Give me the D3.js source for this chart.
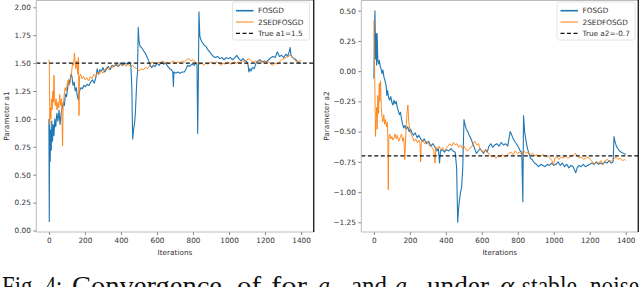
<!DOCTYPE html>
<html>
<body style="margin: 0; background: #fff">
  <script src="https://d3js.org/d3.v7.min.js"></script>

  <script>
    // a1 panel, [iteration, value]
    const a1Fosgd = [
      [0,1.00],[2,0.08],[4,0.95],[7,0.62],[10,0.90],[13,0.72],[16,0.98],[20,0.80],[24,0.95],[28,0.85],
      [33,1.00],[38,0.93],[44,1.05],[50,0.98],[56,1.08],[62,0.95],[68,1.05],[74,1.10],[80,1.15],[86,1.12],
      [92,1.22],[98,1.20],[104,1.28],[110,1.35],[116,1.32],[122,1.40],[128,1.38],[134,1.30],[140,1.33],[146,1.25],
      [152,1.28],[158,1.20],[164,1.17],[170,1.25],[178,1.28],[186,1.27],[194,1.30],[202,1.29],[212,1.31],[222,1.30],
      [232,1.33],[242,1.35],[252,1.32],[262,1.38],[268,1.45],[274,1.40],[282,1.44],[292,1.43],[300,1.46],[310,1.42],
      [320,1.45],[330,1.47],[340,1.44],[350,1.48],[362,1.47],[374,1.49],[386,1.47],[398,1.50],[410,1.48],[422,1.50],
      [434,1.49],[446,1.51],[455,1.48],[460,1.30],[465,0.82],[470,0.90],[476,0.97],[480,1.05],[484,1.20],[488,1.35],
      [492,1.42],[496,1.82],[500,1.70],[506,1.65],[514,1.64],[522,1.62],[530,1.60],[538,1.58],[546,1.55],[554,1.52],
      [562,1.48],[570,1.46],[580,1.48],[590,1.47],[600,1.50],[612,1.48],[624,1.51],[636,1.49],[648,1.50],[660,1.47],
      [670,1.45],[680,1.44],[688,1.42],[691,1.29],[694,1.42],[704,1.41],[716,1.42],[728,1.41],[740,1.42],[752,1.42],
      [762,1.45],[770,1.48],[782,1.47],[794,1.49],[806,1.48],[816,1.50],[822,1.49],[826,0.87],[830,1.40],[833,1.96],
      [838,1.74],[846,1.70],[854,1.68],[862,1.66],[872,1.65],[882,1.62],[892,1.60],[902,1.58],[912,1.56],[924,1.55],
      [936,1.56],[948,1.54],[960,1.55],[972,1.53],[984,1.55],[996,1.54],[1008,1.55],[1020,1.53],[1032,1.55],[1043,1.57],
      [1054,1.54],[1066,1.52],[1078,1.54],[1090,1.52],[1100,1.51],[1106,1.48],[1110,1.42],[1116,1.45],[1122,1.43],[1130,1.46],
      [1140,1.45],[1150,1.50],[1160,1.52],[1172,1.53],[1184,1.51],[1196,1.52],[1208,1.51],[1220,1.53],[1232,1.55],[1244,1.56],
      [1256,1.55],[1268,1.60],[1280,1.56],[1292,1.57],[1304,1.55],[1316,1.58],[1326,1.56],[1334,1.60],[1339,1.64],[1344,1.57],
      [1352,1.55],[1362,1.54],[1372,1.53],[1382,1.51],[1392,1.50],[1400,1.50]
    ];
    const a1Sed = [
      [0,1.53],[2,1.50],[5,0.95],[8,1.10],[11,1.00],[14,1.18],[18,1.08],[22,1.25],[25,1.15],[28,1.39],
      [31,1.20],[35,1.12],[40,1.18],[45,1.08],[50,1.15],[55,1.10],[60,1.22],[65,1.12],[70,1.18],[74,0.90],
      [76,0.76],[79,1.10],[84,1.20],[90,1.28],[96,1.25],[102,1.32],[108,1.35],[114,1.30],[120,1.38],[126,1.42],
      [132,1.50],[136,1.48],[142,1.59],[146,1.50],[150,1.45],[155,1.52],[160,1.40],[164,1.55],[167,1.03],[170,1.38],
      [176,1.40],[184,1.36],[192,1.38],[200,1.35],[210,1.37],[220,1.34],[230,1.38],[240,1.36],[250,1.40],[260,1.38],
      [270,1.42],[280,1.40],[290,1.43],[300,1.41],[310,1.44],[320,1.46],[332,1.44],[344,1.47],[356,1.46],[368,1.49],
      [380,1.47],[392,1.49],[404,1.48],[416,1.50],[428,1.47],[440,1.49],[452,1.47],[464,1.48],[476,1.46],[488,1.45],
      [500,1.43],[512,1.45],[524,1.44],[536,1.46],[548,1.45],[560,1.48],[572,1.51],[584,1.50],[596,1.49],[608,1.51],
      [620,1.50],[632,1.52],[644,1.50],[656,1.51],[668,1.49],[680,1.51],[692,1.52],[704,1.50],[716,1.51],[728,1.50],
      [740,1.52],[752,1.51],[764,1.53],[776,1.54],[788,1.52],[800,1.53],[812,1.51],[824,1.50],[836,1.49],[848,1.50],
      [860,1.48],[872,1.50],[884,1.49],[896,1.51],[908,1.50],[920,1.49],[932,1.51],[944,1.50],[956,1.48],[968,1.50],
      [980,1.49],[992,1.51],[1004,1.50],[1016,1.49],[1028,1.51],[1040,1.50],[1052,1.51],[1064,1.50],[1076,1.52],[1088,1.51],
      [1100,1.53],[1112,1.54],[1124,1.52],[1136,1.51],[1148,1.52],[1160,1.51],[1172,1.52],[1184,1.51],[1196,1.50],[1208,1.52],
      [1220,1.51],[1232,1.49],[1244,1.48],[1256,1.50],[1268,1.49],[1280,1.51],[1292,1.53],[1304,1.54],[1316,1.55],[1328,1.56],
      [1340,1.57],[1352,1.55],[1364,1.53],[1376,1.51],[1388,1.52],[1400,1.52]
    ];

    // a2 panel, [iteration, value]
    const a2Fosgd = [
      [0,-0.06],[3,0.30],[6,0.50],[9,0.10],[12,0.31],[15,0.05],[18,0.31],[22,0.09],[26,0.06],[30,0.09],
      [35,0.04],[40,0.02],[45,-0.02],[50,0.01],[56,-0.05],[62,-0.08],[68,-0.12],[72,-0.20],[76,-0.16],[82,-0.22],
      [88,-0.24],[94,-0.21],[100,-0.26],[106,-0.28],[112,-0.24],[118,-0.27],[124,-0.25],[130,-0.30],[136,-0.33],[142,-0.36],
      [148,-0.34],[154,-0.40],[160,-0.44],[166,-0.47],[172,-0.45],[180,-0.48],[188,-0.46],[196,-0.50],[204,-0.48],[212,-0.51],
      [220,-0.53],[230,-0.51],[240,-0.55],[250,-0.53],[260,-0.56],[270,-0.58],[280,-0.56],[292,-0.60],[304,-0.58],[316,-0.62],
      [328,-0.60],[340,-0.63],[350,-0.66],[358,-0.64],[365,-0.76],[370,-0.66],[380,-0.65],[392,-0.67],[404,-0.65],[416,-0.66],
      [428,-0.64],[440,-0.66],[452,-0.67],[460,-0.80],[466,-1.25],[470,-1.15],[476,-1.06],[482,-1.00],[488,-0.96],[494,-0.80],
      [501,-0.40],[506,-0.44],[514,-0.48],[522,-0.50],[530,-0.53],[540,-0.56],[550,-0.60],[560,-0.64],[570,-0.68],[580,-0.66],
      [590,-0.64],[600,-0.66],[610,-0.68],[620,-0.65],[630,-0.67],[640,-0.62],[650,-0.60],[660,-0.63],[672,-0.61],[684,-0.60],
      [696,-0.62],[708,-0.59],[720,-0.61],[732,-0.60],[744,-0.62],[752,-0.55],[758,-0.50],[764,-0.52],[772,-0.55],[782,-0.58],
      [792,-0.60],[804,-0.63],[814,-0.66],[822,-0.67],[828,-1.08],[832,-0.37],[838,-0.50],[846,-0.58],[854,-0.64],[862,-0.68],
      [870,-0.72],[880,-0.73],[892,-0.76],[904,-0.77],[916,-0.79],[928,-0.77],[940,-0.78],[952,-0.79],[964,-0.77],[976,-0.78],
      [988,-0.76],[1000,-0.78],[1012,-0.77],[1024,-0.75],[1036,-0.78],[1048,-0.76],[1060,-0.79],[1072,-0.77],[1084,-0.80],[1096,-0.78],
      [1108,-0.79],[1116,-0.82],[1122,-0.84],[1130,-0.80],[1140,-0.78],[1152,-0.79],[1164,-0.77],[1176,-0.79],[1188,-0.78],[1200,-0.77],
      [1212,-0.76],[1224,-0.77],[1236,-0.75],[1248,-0.77],[1260,-0.76],[1272,-0.77],[1284,-0.75],[1296,-0.76],[1308,-0.74],[1320,-0.76],
      [1330,-0.75],[1335,-0.54],[1340,-0.58],[1348,-0.62],[1356,-0.64],[1366,-0.66],[1376,-0.67],[1388,-0.68],[1400,-0.69]
    ];
    const a2Sed = [
      [0,0.42],[3,0.10],[6,-0.20],[9,-0.54],[12,-0.40],[15,-0.30],[18,-0.48],[22,-0.20],[26,-0.35],[30,-0.10],
      [33,-0.25],[37,-0.08],[41,-0.30],[45,-0.38],[50,-0.42],[55,-0.36],[60,-0.44],[65,-0.40],[70,-0.46],[75,-0.42],
      [78,-0.60],[80,-0.98],[83,-0.55],[88,-0.52],[94,-0.56],[100,-0.54],[106,-0.57],[112,-0.55],[118,-0.52],[124,-0.56],
      [130,-0.53],[138,-0.58],[146,-0.55],[154,-0.52],[160,-0.58],[166,-0.55],[172,-0.73],[178,-0.50],[184,-0.35],[189,-0.28],
      [194,-0.42],[200,-0.48],[208,-0.52],[216,-0.55],[224,-0.58],[232,-0.56],[242,-0.59],[250,-0.57],[256,-0.60],[260,-0.75],
      [264,-0.58],[272,-0.57],[282,-0.60],[292,-0.58],[302,-0.60],[312,-0.62],[322,-0.63],[332,-0.65],[340,-0.76],[344,-0.63],
      [352,-0.64],[362,-0.62],[372,-0.65],[382,-0.63],[392,-0.66],[402,-0.64],[412,-0.62],[422,-0.60],[432,-0.62],[442,-0.59],
      [452,-0.61],[462,-0.60],[472,-0.63],[482,-0.61],[492,-0.64],[502,-0.62],[512,-0.65],[522,-0.66],[532,-0.64],[542,-0.63],
      [552,-0.60],[562,-0.58],[572,-0.61],[582,-0.60],[592,-0.65],[602,-0.66],[612,-0.67],[622,-0.65],[632,-0.67],[642,-0.69],
      [654,-0.71],[666,-0.70],[678,-0.72],[690,-0.70],[702,-0.71],[714,-0.69],[726,-0.71],[738,-0.70],[750,-0.68],[762,-0.67],
      [774,-0.69],[786,-0.66],[798,-0.68],[810,-0.67],[822,-0.69],[834,-0.66],[846,-0.68],[858,-0.67],[870,-0.69],[882,-0.68],
      [894,-0.70],[906,-0.69],[918,-0.71],[930,-0.70],[942,-0.69],[954,-0.71],[966,-0.70],[978,-0.72],[990,-0.74],[998,-0.78],
      [1006,-0.72],[1018,-0.71],[1030,-0.73],[1042,-0.71],[1054,-0.72],[1066,-0.70],[1078,-0.72],[1090,-0.71],[1102,-0.70],[1114,-0.69],
      [1120,-0.68],[1130,-0.70],[1142,-0.72],[1154,-0.71],[1166,-0.73],[1178,-0.72],[1190,-0.71],[1202,-0.73],[1214,-0.75],[1226,-0.77],
      [1238,-0.75],[1250,-0.76],[1262,-0.74],[1274,-0.77],[1286,-0.74],[1298,-0.73],[1310,-0.75],[1322,-0.74],[1334,-0.73],[1346,-0.71],
      [1358,-0.73],[1370,-0.72],[1382,-0.74],[1394,-0.73],[1400,-0.74]
    ];

    const xTicks = [0, 200, 400, 600, 800, 1000, 1200, 1400];
    const a1Ticks = [0, 0.25, 0.5, 0.75, 1.0, 1.25, 1.5, 1.75, 2.0];
    const a2Ticks = [-1.25, -1.0, -0.75, -0.5, -0.25, 0, 0.25, 0.5];
    const seriesNames = ["FOSGD", "2SEDFOSGD"];
    const trueA1 = 1.5;
    const trueA2 = -0.7;

    const BLUE = "#1f77b4";
    const ORANGE = "#ff7f0e";
    const FONT = "DejaVu Sans, sans-serif";

    const svg = d3.select("body").append("svg")
      .attr("width", 640)
      .attr("height", 287);

    const drawPanel = (opt) => {
      const x = d3.scaleLinear().domain([-70, 1470]).range([opt.left, opt.right]);
      const y = d3.scaleLinear().domain(opt.yDomain).range(opt.yRange);
      const top = 0.5, bottom = 232;
      const g = svg.append("g");

      const xAxis = g.append("g")
        .attr("transform", `translate(0,${bottom})`)
        .call(d3.axisBottom(x).tickValues(xTicks).tickFormat(d3.format("d")).tickSize(3).tickPadding(2.5));
      const yAxis = g.append("g")
        .attr("transform", `translate(${opt.left},0)`)
        .call(d3.axisLeft(y).tickValues(opt.yTicks).tickFormat(d3.format(".2f")).tickSize(3).tickPadding(2.5));
      [xAxis, yAxis].forEach(a => {
        a.select(".domain").remove();
        a.selectAll("line").attr("stroke", "#666").attr("stroke-width", 0.8);
        a.selectAll("text").attr("font-family", FONT).attr("font-size", 7.3).attr("fill", "#333");
      });

      const line = d3.line().x(d => x(d[0])).y(d => y(d[1]));
      g.append("path").datum(opt.s1).attr("d", line)
        .attr("fill", "none").attr("stroke", BLUE).attr("stroke-width", 1.1).attr("stroke-linejoin", "round");
      g.append("path").datum(opt.s2).attr("d", line)
        .attr("fill", "none").attr("stroke", ORANGE).attr("stroke-width", 0.9).attr("stroke-linejoin", "round");

      g.append("line")
        .attr("x1", opt.left).attr("x2", opt.right)
        .attr("y1", y(opt.trueVal)).attr("y2", y(opt.trueVal))
        .attr("stroke", "#111").attr("stroke-width", 1.3).attr("stroke-dasharray", "4,2.5");

      // frame
      g.append("path")
        .attr("d", `M${opt.left},${top}H${opt.right}M${opt.left},${top}V${bottom}H${opt.right}`)
        .attr("fill", "none").attr("stroke", "#aaa").attr("stroke-width", 0.8);
      g.append("line")
        .attr("x1", opt.right).attr("x2", opt.right).attr("y1", 0).attr("y2", bottom)
        .attr("stroke", "#222").attr("stroke-width", 1.4);

      g.append("text")
        .attr("x", (opt.left + opt.right) / 2).attr("y", 254.5)
        .attr("text-anchor", "middle")
        .attr("font-family", FONT).attr("font-size", 7.3).attr("fill", "#333")
        .text("Iterations");
      g.append("text")
        .attr("transform", `translate(${opt.labelX},116) rotate(-90)`)
        .attr("text-anchor", "middle")
        .attr("font-family", FONT).attr("font-size", 7.3).attr("fill", "#333")
        .text(opt.yLabel);

      // legend
      const lg = g.append("g").attr("transform", `translate(${opt.legendX},2)`);
      lg.append("rect")
        .attr("width", opt.legendW).attr("height", 38).attr("rx", 2)
        .attr("fill", "#fff").attr("fill-opacity", 0.85)
        .attr("stroke", "#ddd").attr("stroke-width", 0.8);
      const entries = [
        {label: seriesNames[0], color: BLUE, w: 1.6, dash: null},
        {label: seriesNames[1], color: ORANGE, w: 1.0, dash: null},
        {label: opt.trueLabel, color: "#111", w: 1.3, dash: "4,2.5"}
      ];
      entries.forEach((e, i) => {
        const yy = 8.7 + i * 11.3;
        lg.append("line")
          .attr("x1", 3.5).attr("x2", 21).attr("y1", yy).attr("y2", yy)
          .attr("stroke", e.color).attr("stroke-width", e.w)
          .attr("stroke-dasharray", e.dash);
        lg.append("text")
          .attr("x", 25.5).attr("y", yy + 2.6)
          .attr("font-family", FONT).attr("font-size", 7.3).attr("fill", "#333")
          .text(e.label);
      });
    };

    drawPanel({
      left: 36.3, right: 313.7, labelX: 9,
      yDomain: [0, 2], yRange: [230.5, 7.3], yTicks: a1Ticks,
      s1: a1Fosgd, s2: a1Sed, trueVal: trueA1,
      yLabel: "Parameter a1", trueLabel: "True a1=1.5",
      legendX: 232.5, legendW: 77
    });
    drawPanel({
      left: 361.3, right: 638.3, labelX: 329,
      yDomain: [-1.25, 0.5], yRange: [222.3, 10.7], yTicks: a2Ticks,
      s1: a2Fosgd, s2: a2Sed, trueVal: trueA2,
      yLabel: "Parameter a2", trueLabel: "True a2=-0.7",
      legendX: 557, legendW: 78
    });

    // caption, cut off at the bottom edge as in the page crop
    const capWords = [
      {t: "Fig.", x: 2, w: 36}, {t: "4:", x: 45, w: 17}, {t: "Convergence", x: 72, w: 150},
      {t: "of", x: 237, w: 24}, {t: "for", x: 271, w: 36}, {t: "a", x: 318, w: 12, it: true, sub: "1"},
      {t: "and", x: 351, w: 36}, {t: "a", x: 395, w: 12, it: true, sub: "2"},
      {t: "under", x: 427, w: 62}, {t: "α", x: 500, w: 14, it: true},
      {t: "-stable", x: 514, w: 63}, {t: "noise", x: 590, w: 49}
    ];
    capWords.forEach(w => {
      svg.append("text")
        .attr("x", w.x).attr("y", 295)
        .attr("textLength", w.w).attr("lengthAdjust", "spacingAndGlyphs")
        .attr("font-family", "Liberation Serif, serif").attr("font-size", 28)
        .attr("font-style", w.it ? "italic" : null)
        .attr("fill", "#111")
        .text(w.t);
      if (w.sub) {
        svg.append("text")
          .attr("x", w.x + w.w + 1).attr("y", 300)
          .attr("font-family", "Liberation Serif, serif").attr("font-size", 19)
          .attr("fill", "#111")
          .text(w.sub);
      }
    });
  </script>
</body>
</html>
